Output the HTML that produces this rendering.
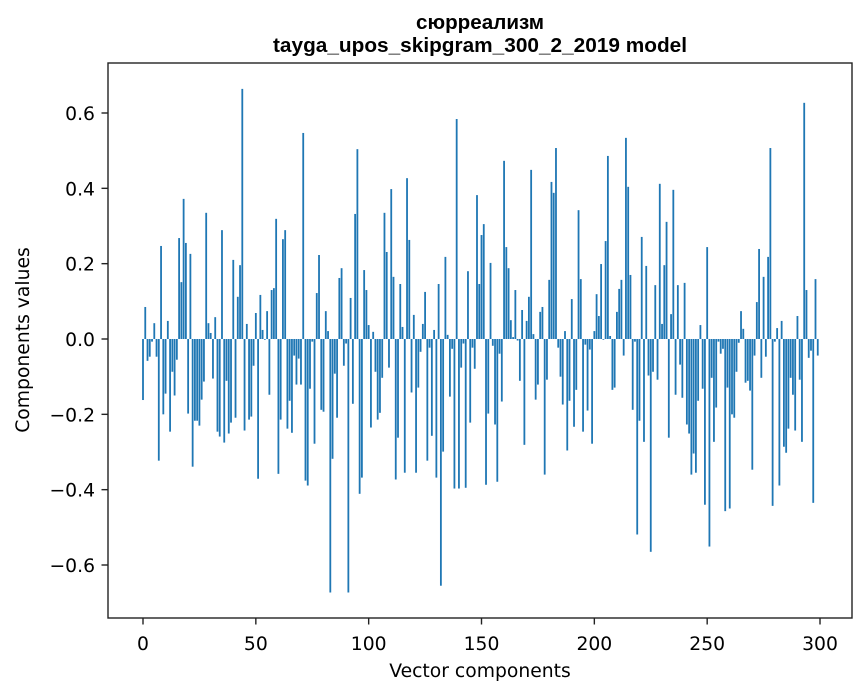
<!DOCTYPE html>
<html><head><meta charset="utf-8"><style>
body{margin:0;background:#fff;}
svg{display:block;font-family:"DejaVu Sans","Liberation Sans",sans-serif;}
</style></head><body>
<svg id="chart" width="867" height="696">
<text x="480" y="29" text-anchor="middle" font-size="20" font-weight="bold" font-family="Liberation Sans, sans-serif" textLength="128" lengthAdjust="spacingAndGlyphs">сюрреализм</text>
<text x="480" y="52" text-anchor="middle" font-size="20" font-weight="bold" font-family="Liberation Sans, sans-serif" textLength="414" lengthAdjust="spacingAndGlyphs">tayga_upos_skipgram_300_2_2019 model</text>
<g id="bars"></g>
<rect x="108" y="63" width="744" height="555" fill="none" stroke="#222" stroke-width="1.4"/>
<g id="xaxis"></g>
<g id="yaxis"></g>
<text x="480" y="677" text-anchor="middle" font-size="18.75">Vector components</text>
<text transform="translate(29,340) rotate(-90)" text-anchor="middle" font-size="18.75">Components values</text>
</svg>
<script>
const values = [
-0.162,0.085,-0.058,-0.047,-0.007,0.042,-0.047,-0.323,0.247,-0.2,
-0.145,0.048,-0.246,-0.087,-0.15,-0.055,0.268,0.151,0.372,0.255,
-0.198,0.226,-0.339,-0.217,-0.217,-0.23,-0.161,-0.113,0.335,0.042,
0.016,-0.105,0.058,-0.246,-0.259,0.289,-0.275,-0.111,-0.251,-0.222,
0.21,-0.209,0.112,0.196,0.664,-0.243,0.04,-0.214,-0.206,-0.071,
0.069,-0.371,0.117,0.024,-0.002,0.074,-0.148,0.13,0.135,0.319,
-0.358,-0.214,0.265,0.289,-0.238,-0.164,-0.249,-0.044,-0.121,-0.052,
-0.121,0.547,-0.376,-0.389,-0.132,-0.007,-0.278,0.122,0.223,-0.188,
-0.193,0.074,0.021,-0.673,-0.318,-0.092,-0.209,0.162,0.188,-0.071,
-0.012,-0.673,0.109,-0.172,0.332,0.504,-0.411,-0.368,0.183,0.13,
0.037,-0.235,0.019,-0.087,-0.214,-0.196,-0.103,0.335,0.231,-0.076,
0.398,0.165,-0.373,-0.262,0.146,0.032,-0.355,0.427,0.263,-0.142,
0.064,-0.355,-0.129,-0.034,0.04,0.125,-0.323,-0.023,-0.257,0.024,
-0.368,0.146,-0.655,-0.299,0.218,0.011,-0.153,-0.026,-0.397,0.584,
-0.397,-0.076,-0.012,-0.395,0.18,-0.222,-0.023,-0.079,0.382,0.146,
0.276,0.305,-0.387,-0.198,0.202,-0.018,-0.227,-0.379,-0.039,-0.166,
0.473,0.244,0.188,0.05,0.005,0.13,-0.004,-0.111,0.077,-0.281,
0.048,0.112,0.449,0.013,-0.161,-0.121,0.072,0.085,-0.36,-0.108,
0.157,0.417,0.388,0.507,-0.023,-0.1,-0.174,0.021,-0.296,-0.164,
0.106,-0.233,-0.135,0.342,0.159,-0.246,-0.015,-0.19,-0.028,-0.278,
0.021,0.119,0.061,0.199,-0.002,0.26,0.486,0.008,-0.135,-0.129,
0.072,0.133,0.157,-0.044,0.534,0.404,0.17,-0.188,-0.007,-0.519,
-0.217,0.271,-0.273,0.194,-0.097,-0.565,-0.087,0.143,-0.108,0.412,
0.04,0.196,0.311,-0.262,0.066,0.396,-0.148,0.143,-0.068,-0.156,
0.149,-0.227,-0.251,-0.36,-0.304,-0.355,-0.164,0.037,-0.132,-0.44,
0.244,-0.551,-0.103,-0.273,-0.182,-0.007,-0.039,-0.026,-0.457,-0.129,
-0.45,-0.2,-0.209,-0.087,-0.01,0.074,0.027,-0.116,-0.111,-0.137,
-0.347,-0.044,0.098,0.239,-0.103,0.165,-0.047,0.218,0.507,-0.443,
-0.007,0.029,-0.389,0.048,-0.286,-0.302,-0.238,-0.103,-0.148,-0.243,
0.061,-0.108,-0.273,0.627,0.13,-0.05,-0.031,-0.435,0.159,-0.044
];
const xTicks = [0,50,100,150,200,250,300];
const yTicks = [-0.6,-0.4,-0.2,0.0,0.2,0.4,0.6];

const NS="http://www.w3.org/2000/svg";
function xs(v){return 143 + v*2.2567;}
function ys(v){return 339 - v*376.67;}
const bars=document.getElementById('bars');
values.forEach((v,i)=>{
  const r=document.createElementNS(NS,'rect');
  const x0=xs(i-0.4), x1=xs(i+0.4);
  const y0=Math.min(ys(v),ys(0)), h=Math.abs(ys(v)-ys(0));
  r.setAttribute('x',x0);r.setAttribute('y',y0);
  r.setAttribute('width',x1-x0);r.setAttribute('height',Math.max(h,0.3));
  r.setAttribute('fill','#1f77b4');
  
  
  bars.appendChild(r);
});
const xa=document.getElementById('xaxis');
xTicks.forEach(t=>{
  const l=document.createElementNS(NS,'line');
  l.setAttribute('x1',xs(t));l.setAttribute('x2',xs(t));
  l.setAttribute('y1',618);l.setAttribute('y2',624.5);
  l.setAttribute('stroke','#222');l.setAttribute('stroke-width','1.4');
  
  
  xa.appendChild(l);
  const tx=document.createElementNS(NS,'text');
  tx.setAttribute('x',xs(t));tx.setAttribute('y',650);
  tx.setAttribute('text-anchor','middle');tx.setAttribute('font-size','18.75');
  tx.textContent=String(t);
  
  
  xa.appendChild(tx);
});
const ya=document.getElementById('yaxis');
yTicks.forEach(t=>{
  const l=document.createElementNS(NS,'line');
  l.setAttribute('x1',101.5);l.setAttribute('x2',108);
  l.setAttribute('y1',ys(t));l.setAttribute('y2',ys(t));
  l.setAttribute('stroke','#222');l.setAttribute('stroke-width','1.4');
  
  
  ya.appendChild(l);
  const tx=document.createElementNS(NS,'text');
  tx.setAttribute('x',95);tx.setAttribute('y',ys(t)+7);
  tx.setAttribute('text-anchor','end');tx.setAttribute('font-size','18.75');
  tx.textContent=(t<0?'\u2212':'')+Math.abs(t).toFixed(1);
  
  
  ya.appendChild(tx);
});
</script>
</body></html>
